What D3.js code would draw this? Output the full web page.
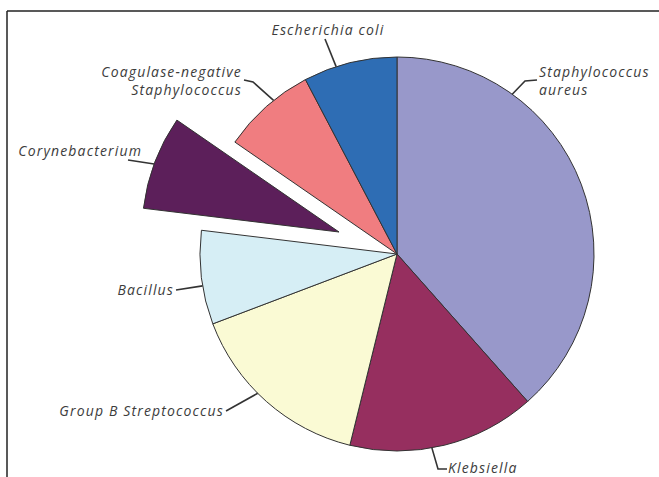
<!DOCTYPE html>
<html>
<head>
<meta charset="utf-8">
<script src="https://cdn.jsdelivr.net/npm/d3@7"></script>
<style>
  html, body { margin: 0; padding: 0; background: #fff; }
  svg { display: block; }
  text { font-family: "Open Sans", sans-serif; font-style: italic; font-weight: 500; font-size: 14px; letter-spacing: 1.15px; fill: #3c3c3c; }
</style>
</head>
<body>
<svg id="chart" width="659" height="477"></svg>
<script>
// ---- data ----
const categories = ["Staphylococcus aureus", "Klebsiella", "Group B Streptococcus", "Bacillus",
                    "Corynebacterium", "Coagulase-negative Staphylococcus", "Escherichia coli"];
const counts = [5, 2, 2, 1, 1, 1, 1];
const colors = ["#9898ca", "#962f5f", "#fafad4", "#d6eef5", "#5c1f5a", "#f07d80", "#2e6db4"];
const explodedCategory = "Corynebacterium";

// ---- layout (positions only) ----
const W = 659, H = 477;
const cx = 397, cy = 254, R = 197, explode = 62;
const labelLayout = {
  "Staphylococcus aureus": {lines: ["Staphylococcus", "aureus"], anchor: "start", x: 539, y: 77, rimDeg: 35.8, pts: [[525, 81], [537, 80]]},
  "Klebsiella": {lines: ["Klebsiella"], anchor: "start", x: 448, y: 473, rimDeg: 169.8, pts: [[438, 469], [447, 469]]},
  "Group B Streptococcus": {lines: ["Group B Streptococcus"], anchor: "end", x: 224, y: 416, rimDeg: 225, pts: [[226, 411]]},
  "Bacillus": {lines: ["Bacillus"], anchor: "end", x: 174, y: 295, rimDeg: 260.7, pts: [[176, 290]]},
  "Corynebacterium": {lines: ["Corynebacterium"], anchor: "end", x: 142, y: 156, rimDeg: 290.2, pts: [[128, 160]]},
  "Coagulase-negative Staphylococcus": {lines: ["Coagulase-negative", "Staphylococcus"], anchor: "end", x: 242, y: 77, rimDeg: 321.2, pts: [[253, 82], [244, 80]]},
  "Escherichia coli": {lines: ["Escherichia coli"], anchor: "middle", x: 328, y: 35, rimDeg: 342, pts: [[325, 39]]}
};

const data = categories.map((c, i) => ({name: c, value: counts[i], color: colors[i]}));

const svg = d3.select("#chart");

svg.append("line").attr("x1", 7).attr("y1", 11).attr("x2", W).attr("y2", 11)
  .attr("stroke", "#222").attr("stroke-width", 1.5);
svg.append("line").attr("x1", 7).attr("y1", 11).attr("x2", 7).attr("y2", H)
  .attr("stroke", "#222").attr("stroke-width", 1.5);

const pie = d3.pie().value(d => d.value).sort(null);
const arc = d3.arc().innerRadius(0).outerRadius(R);
const arcs = pie(data);

function offsetOf(d) {
  if (d.data.name !== explodedCategory) return [0, 0];
  const mid = (d.startAngle + d.endAngle) / 2;
  return [Math.sin(mid) * explode, -Math.cos(mid) * explode];
}

const g = svg.append("g").attr("transform", `translate(${cx},${cy})`);

g.selectAll("path.slice").data(arcs).enter().append("path")
  .attr("class", "slice")
  .attr("d", arc)
  .attr("transform", d => { const o = offsetOf(d); return `translate(${o[0]},${o[1]})`; })
  .attr("fill", d => d.data.color)
  .attr("stroke", "#333")
  .attr("stroke-width", 1)
  .attr("stroke-linejoin", "round");

arcs.forEach(d => {
  const L = labelLayout[d.data.name];
  const o = offsetOf(d);
  const a = L.rimDeg * Math.PI / 180;
  const rim = [cx + o[0] + Math.sin(a) * R, cy + o[1] - Math.cos(a) * R];
  const pts = [rim].concat(L.pts);
  svg.append("path")
    .attr("d", d3.line()(pts))
    .attr("fill", "none")
    .attr("stroke", "#333")
    .attr("stroke-width", 1.6);
  const t = svg.append("text")
    .attr("x", L.x).attr("y", L.y)
    .attr("text-anchor", L.anchor);
  L.lines.forEach((ln, i) => {
    t.append("tspan").attr("x", L.x).attr("dy", i === 0 ? 0 : 18).text(ln);
  });
});
</script>
</body>
</html>
